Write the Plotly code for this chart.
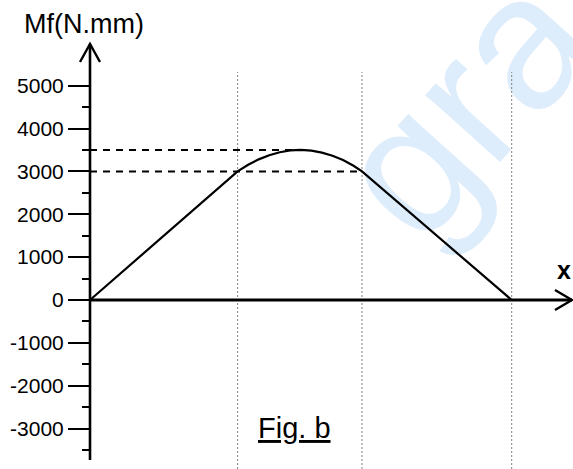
import plotly.graph_objects as go

# ---- data ----
x_pos = [0, 35, 37.5, 40, 42.5, 45, 47.5, 50, 52.5, 55, 57.5, 60, 62.5, 64.5, 100]
moment = [0, 3000, 3155, 3280, 3378, 3447, 3488, 3500, 3483, 3438, 3365, 3263, 3131, 3000, 0]
section_x = [35, 64.5, 100]
y_ticks = [-3000, -2000, -1000, 0, 1000, 2000, 3000, 4000, 5000]
y_minor = [-3500, -2500, -1500, -500, 500, 1500, 2500, 3500, 4500]
y_title = "Mf(N.mm)"
x_title = "x"
fig_label = "Fig. b"
watermark = "gra"

# ---- pixel geometry ----
W, H = 573, 469
OX, OY = 90, 300          # pixel of origin
KX, KY = 4.217, 0.042875  # px per unit


def dx(px):
    return (px - OX) / KX


def dy(py):
    return (OY - py) / KY


x_range = [dx(0), dx(W)]
y_range = [dy(H), dy(0)]

peak_i = moment.index(max(moment))
x_peak, m_peak = x_pos[peak_i], moment[peak_i]
x_b, m_b = x_pos[13], moment[13]

fig = go.Figure()

# dashed reference lines
fig.add_trace(go.Scatter(x=[0, x_peak], y=[m_peak, m_peak], mode="lines",
                         line=dict(color="black", width=2, dash="7px,6px"),
                         hoverinfo="skip", showlegend=False))
fig.add_trace(go.Scatter(x=[0, x_b], y=[m_b, m_b], mode="lines",
                         line=dict(color="black", width=2, dash="7px,6px"),
                         hoverinfo="skip", showlegend=False))
# bending moment curve
fig.add_trace(go.Scatter(x=x_pos, y=moment, mode="lines",
                         line=dict(color="black", width=2.2),
                         showlegend=False))

shapes = []
# watermark (behind the traces)
WX, WY = 450, 92
shapes.append(dict(type="rect", xref="paper", yref="paper",
                   x0=(WX - 60) / W, x1=(WX + 60) / W,
                   y0=1 - (WY + 60) / H, y1=1 - (WY - 60) / H,
                   line=dict(width=0), fillcolor="rgba(0,0,0,0)", layer="below",
                   label=dict(text=watermark, textangle=-48, textposition="middle center",
                              font=dict(size=190, color="#deedfc",
                                        family="Liberation Sans, Arial"))))
# dotted section lines
for sx in section_x:
    shapes.append(dict(type="line", xref="x", yref="y", x0=sx, x1=sx,
                       y0=dy(H), y1=dy(72),
                       line=dict(color="#808080", width=1, dash="2px,2px"),
                       layer="below"))
# axes lines
shapes.append(dict(type="line", xref="x", yref="y", x0=0, x1=0,
                   y0=dy(460), y1=dy(44), line=dict(color="black", width=2.6)))
shapes.append(dict(type="line", xref="x", yref="y", x0=0, x1=dx(572),
                   y0=0, y1=0, line=dict(color="black", width=2.8)))
# arrow heads
shapes.append(dict(type="path", xref="x", yref="y",
                   path=f"M{dx(80)},{dy(62)} L{dx(90)},{dy(44)} L{dx(100)},{dy(62)}",
                   line=dict(color="black", width=2.4)))
shapes.append(dict(type="path", xref="x", yref="y",
                   path=f"M{dx(555)},{dy(290)} L{dx(572)},{dy(300)} L{dx(555)},{dy(310)}",
                   line=dict(color="black", width=2.4)))

annotations = [
    dict(text=y_title, xref="paper", yref="paper", x=84 / W, y=1 - 24 / H,
         showarrow=False, xanchor="center", yanchor="middle",
         font=dict(size=27, color="black")),
    dict(text=f"<b>{x_title}</b>", xref="paper", yref="paper", x=564 / W, y=1 - 270 / H,
         showarrow=False, xanchor="center", yanchor="middle",
         font=dict(size=25, color="black")),
    dict(text=f"<u>{fig_label}</u>", xref="paper", yref="paper", x=294 / W, y=1 - 428 / H,
         showarrow=False, xanchor="center", yanchor="middle",
         font=dict(size=29, color="black")),
]

fig.update_layout(
    width=W, height=H, autosize=False,
    margin=dict(l=0, r=0, t=0, b=0, pad=0),
    paper_bgcolor="white", plot_bgcolor="white",
    font=dict(family="Liberation Sans, Arial", color="black"),
    shapes=shapes, annotations=annotations,
    xaxis=dict(range=x_range, visible=False, fixedrange=True),
    yaxis=dict(range=y_range, anchor="free", position=OX / W,
               tickvals=y_ticks, ticktext=[str(v) for v in y_ticks],
               ticks="outside", ticklen=22, tickwidth=2, tickcolor="black",
               showgrid=False, zeroline=False, showline=False,
               tickfont=dict(size=21, color="black"),
               minor=dict(tickvals=y_minor, ticks="outside", ticklen=8,
                          tickwidth=1.5, tickcolor="black", showgrid=False),
               fixedrange=True),
)

fig.write_html("out.html", config={"displayModeBar": False},
               post_script="document.body.style.margin='0';document.body.style.overflow='hidden';")
